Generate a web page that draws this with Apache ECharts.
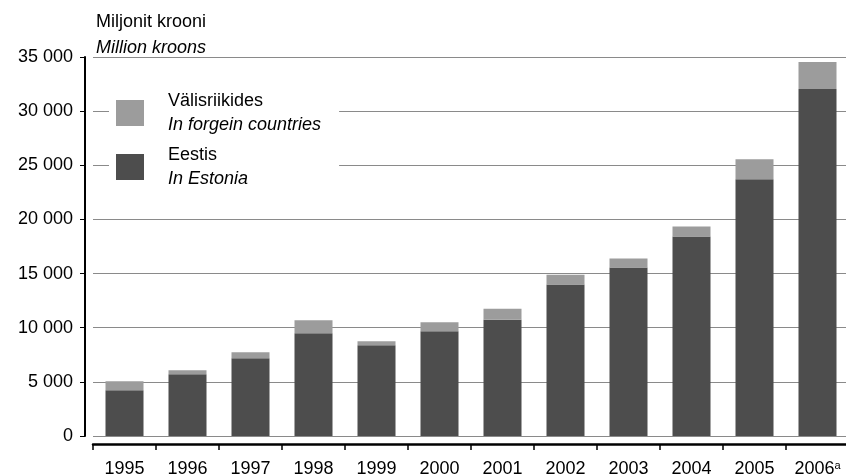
<!DOCTYPE html>
<html>
<head>
<meta charset="utf-8">
<script src="https://cdn.jsdelivr.net/npm/echarts@6/dist/echarts.min.js"></script>
<style>
  html, body { margin: 0; padding: 0; background: #fff; }
  #chart { width: 846px; height: 475px; }
</style>
</head>
<body>
<div id="chart"></div>
<script>
// aastad / years
var years = ['1995', '1996', '1997', '1998', '1999', '2000', '2001', '2002', '2003', '2004', '2005', '2006'];
// Eestis / In Estonia, million kroons
var estonia = [4220, 5700, 7170, 9480, 8370, 9670, 10740, 13980, 15560, 18430, 23700, 32040];
// Välisriikides / In forgein countries, million kroons
var foreign = [830, 370, 560, 1200, 370, 830, 1020, 920, 830, 920, 1860, 2500];
var yTicks = [0, 5000, 10000, 15000, 20000, 25000, 30000, 35000];

var font = '"Liberation Sans", Arial, sans-serif';
var fs = 18;
var chart = echarts.init(document.getElementById('chart'));

function thousands(v) {
  return String(v).replace(/\B(?=(\d{3})+(?!\d))/g, ' ');
}

var option = {
  animation: false,
  backgroundColor: '#fff',
  textStyle: { fontFamily: font },
  title: {
    left: 96,
    top: 10,
    padding: 0,
    text: '{a|Miljonit krooni}\n{b|Million kroons}',
    textStyle: {
      fontWeight: 'normal',
      rich: {
        a: { fontFamily: font, fontSize: fs, color: '#000', lineHeight: 25, fontWeight: 'normal' },
        b: { fontFamily: font, fontSize: fs, color: '#000', lineHeight: 25, fontWeight: 'normal', fontStyle: 'italic' }
      }
    }
  },
  legend: {
    left: 109,
    top: 90,
    orient: 'vertical',
    icon: 'rect',
    itemWidth: 28,
    itemHeight: 26,
    itemGap: 12,
    padding: [2, 18, 6, 7],
    backgroundColor: '#fff',
    data: ['Välisriikides', 'Eestis'],
    formatter: function (name) {
      var en = name === 'Eestis' ? 'In Estonia' : 'In forgein countries';
      return '{a|' + name + '}\n{b|' + en + '}';
    },
    textStyle: {
      padding: [0, 0, 0, 19],
      rich: {
        a: { fontFamily: font, fontSize: fs, color: '#000', lineHeight: 24 },
        b: { fontFamily: font, fontSize: fs, color: '#000', lineHeight: 24, fontStyle: 'italic' }
      }
    }
  },
  grid: { left: 93, top: 57, width: 756, height: 379, outerBoundsMode: 'none' },
  xAxis: {
    type: 'category',
    data: years,
    offset: 8,
    axisLine: { onZero: false, lineStyle: { color: '#000', width: 2.5 } },
    axisTick: { show: true, length: 6, lineStyle: { color: '#000', width: 1.5 } },
    axisLabel: {
      interval: 0,
      margin: 16,
      fontSize: fs,
      color: '#000',
      fontFamily: font,
      formatter: function (v) {
        return v === '2006' ? v + '{sup|a}' : v;
      },
      rich: {
        sup: { fontSize: 11, fontFamily: font, color: '#000', verticalAlign: 'top', lineHeight: 14 }
      }
    }
  },
  yAxis: {
    type: 'value',
    min: yTicks[0],
    max: yTicks[yTicks.length - 1],
    interval: 5000,
    offset: 8,
    axisLine: { show: true, lineStyle: { color: '#000', width: 2 } },
    axisTick: { show: true, length: 5, lineStyle: { color: '#000', width: 1 } },
    axisLabel: {
      margin: 12,
      fontSize: fs,
      color: '#000',
      fontFamily: font,
      formatter: function (v) { return thousands(v); }
    },
    splitLine: { show: true, lineStyle: { color: '#8a8a8a', width: 1.2 } }
  },
  series: [
    {
      name: 'Eestis',
      type: 'bar',
      stack: 'kokku',
      barWidth: 38,
      itemStyle: { color: '#4d4d4d' },
      data: estonia
    },
    {
      name: 'Välisriikides',
      type: 'bar',
      stack: 'kokku',
      barWidth: 38,
      itemStyle: { color: '#9c9c9c' },
      data: foreign
    }
  ]
};

chart.setOption(option);
</script>
</body>
</html>
